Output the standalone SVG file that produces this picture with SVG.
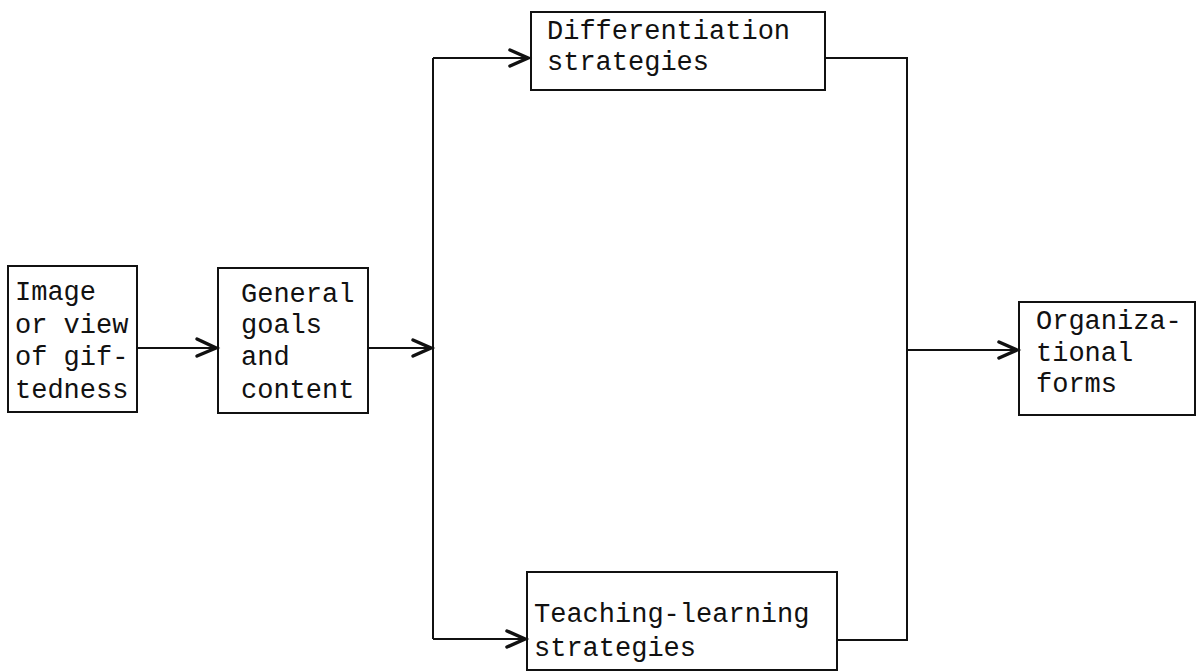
<svg xmlns="http://www.w3.org/2000/svg" width="1204" height="672" viewBox="0 0 1204 672">
<defs>
<style>
.box{fill:none;stroke:#111;stroke-width:2}
.t{font-family:"Liberation Mono","Courier New",monospace;font-size:27px;fill:#111}
.ln{fill:none;stroke:#111;stroke-width:2}
.ah{fill:none;stroke:#111;stroke-width:3.5;stroke-linejoin:miter;stroke-linecap:round}
</style>
</defs>
<rect width="1204" height="672" fill="#fff"/>
<g id="connectors">
<path class="ln" d="M137 348 H216" stroke-width="3.5"/>
<path class="ah" d="M197 339 L216 348 L197 356"/>
<path class="ln" d="M368 348 H431"/>
<path class="ah" d="M413 340 L431 348 L413 356"/>
<path class="ln" d="M433 58 V639"/>
<path class="ln" d="M433 58 H528"/>
<path class="ah" d="M510 50 L528 58 L510 66"/>
<path class="ln" d="M433 639 H525"/>
<path class="ah" d="M507 631 L525 639 L507 647"/>
<path class="ln" d="M825 58 H907 V640 H837"/>
<path class="ln" d="M906 350 H1017"/>
<path class="ah" d="M999 342 L1017 350 L999 358"/>
</g>
<g id="n1">
<rect class="box" x="8" y="266" width="129" height="146"/>
<text class="t" x="15" y="300">Image</text>
<text class="t" x="15" y="333">or view</text>
<text class="t" x="15" y="365">of gif-</text>
<text class="t" x="15" y="398">tedness</text>
</g>
<g id="n2">
<rect class="box" x="218" y="268" width="150" height="145"/>
<text class="t" x="241" y="302">General</text>
<text class="t" x="241" y="333">goals</text>
<text class="t" x="241" y="365">and</text>
<text class="t" x="241" y="398">content</text>
</g>
<g id="n3">
<rect class="box" x="531" y="12" width="294" height="78"/>
<text class="t" x="547" y="39">Differentiation</text>
<text class="t" x="547" y="70">strategies</text>
</g>
<g id="n4">
<rect class="box" x="527" y="572" width="310" height="98"/>
<text class="t" x="534" y="622">Teaching-learning</text>
<text class="t" x="534" y="656">strategies</text>
</g>
<g id="n5">
<rect class="box" x="1019" y="302" width="176" height="113"/>
<text class="t" x="1036" y="329">Organiza-</text>
<text class="t" x="1036" y="361">tional</text>
<text class="t" x="1036" y="392">forms</text>
</g>
</svg>
